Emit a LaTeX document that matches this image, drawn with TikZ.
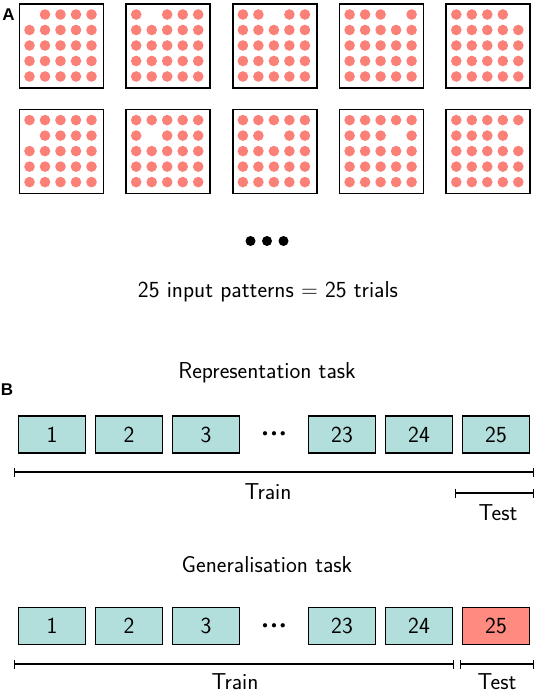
\documentclass[tikz,border=0pt]{standalone}
\usepackage{fontspec}
\newfontfamily\panelfont{Liberation Sans}
\usetikzlibrary{arrows.meta}
\definecolor{dotred}{RGB}{250,128,120}
\definecolor{testred}{RGB}{255,138,128}
\definecolor{trainteal}{RGB}{178,223,219}
\tikzset{
  panel/.style={rectangle, draw, line width=1.7pt, minimum size=84pt, inner sep=0pt, anchor=north west},
  trialdot/.style={fill=dotred},
  slot/.style={rectangle, draw, line width=1.2pt, fill=trainteal, minimum width=67pt, minimum height=37pt, inner sep=0pt},
  span/.style={line width=1.4pt, {Bar[width=9pt,line width=1.4pt]}-{Bar[width=9pt,line width=1.4pt]}},
  tag/.style={font=\panelfont\bfseries\fontsize{17}{20}\selectfont},
  skip/.style={font=\fontsize{10.5}{12}\selectfont},
  edgelabel/.style={inner ysep=0.5pt}
}
\begin{document}
\begin{tikzpicture}[x=10pt, y=10pt, font=\sffamily\fontsize{23}{27}\selectfont]
    \useasboundingbox (0,0) rectangle (53.6,-69.3);

    % A: the input patterns
    \node [tag] (tagA) at (0.85,-1.5) {A};
    \foreach \k in {0,...,9} {
      \pgfmathtruncatemacro{\prow}{\k/5}
      \pgfmathtruncatemacro{\pcol}{mod(\k,5)}
      \node [panel] (pat\k) at (1.85+10.67*\pcol, -0.3-10.56*\prow) {};
      \foreach \i in {0,...,24} {
        \pgfmathtruncatemacro{\drow}{\i/5}
        \pgfmathtruncatemacro{\dcol}{mod(\i,5)}
        \ifnum\i=\k\else
          \fill [trialdot] ([shift={(1.1+1.55*\dcol,-1.15-1.55*\drow)}]pat\k.north west) circle (0.53);
        \fi
      }
    }
    \foreach \x in {25.05,26.7,28.35} \fill (\x,-24.1) circle (0.5);
    \node (caption) at (26.8,-29.2) {25 input patterns = 25 trials};

    % B: representation task
    \node [tag] (tagB) at (0.7,-39.0) {B};
    \node (reptitle) at (26.7,-37.3) {Representation task};
    \node [slot] (r1) at (5.2,-43.45) {1};
    \node [slot] (r2) at (12.9,-43.45) {2};
    \node [slot] (r3) at (20.6,-43.45) {3};
    \node [skip] (rdots) at (27.4,-43.45) {$\bullet\mkern1.5mu\bullet\mkern1.5mu\bullet$};
    \node [slot] (r23) at (34.2,-43.45) {23};
    \node [slot] (r24) at (41.9,-43.45) {24};
    \node [slot] (r25) at (49.6,-43.45) {25};
    \coordinate (rtrainL) at (1.4,-47.2);
    \coordinate (rtrainR) at (53.4,-47.2);
    \coordinate (rtestL) at (45.5,-49.3);
    \coordinate (rtestR) at (53.4,-49.3);
    \draw [span] (rtrainL) -- (rtrainR);
    \draw [span] (rtestL) -- (rtestR);
    \node (rtrain) at (26.8,-49.2) {Train};
    \node (rtest) at (49.8,-51.3) {Test};

    % B: generalisation task
    \node (gentitle) at (26.7,-56.5) {Generalisation task};
    \node [slot] (g1) at (5.2,-62.6) {1};
    \node [slot] (g2) at (12.9,-62.6) {2};
    \node [slot] (g3) at (20.6,-62.6) {3};
    \node [skip] (gdots) at (27.4,-62.6) {$\bullet\mkern1.5mu\bullet\mkern1.5mu\bullet$};
    \node [slot] (g23) at (34.2,-62.6) {23};
    \node [slot] (g24) at (41.9,-62.6) {24};
    \node [slot, fill=testred] (g25) at (49.6,-62.6) {25};
    \coordinate (gtrainL) at (1.4,-66.4);
    \coordinate (gtrainR) at (45.4,-66.4);
    \coordinate (gtestL) at (46.0,-66.4);
    \coordinate (gtestR) at (53.4,-66.4);
    \draw [span] (gtrainL) -- (gtrainR);
    \draw [span] (gtestL) -- (gtestR);
    \node [edgelabel] (gtrain) at (23.5,-68.2) {Train};
    \node [edgelabel] (gtest) at (49.7,-68.2) {Test};
\end{tikzpicture}
\end{document}
